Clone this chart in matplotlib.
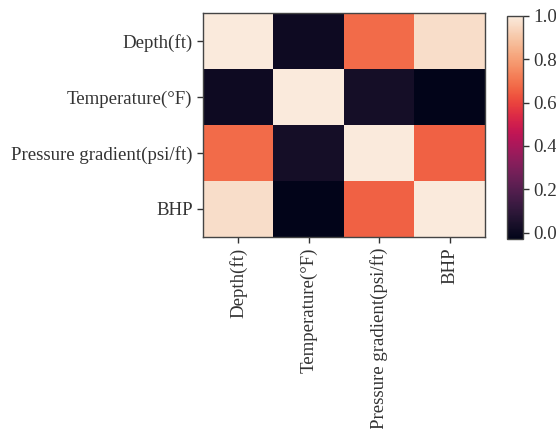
import numpy as np
import matplotlib
matplotlib.use("Agg")
import matplotlib.pyplot as plt
import seaborn as sns

labels = ["Depth(ft)", "Temperature(°F)", "Pressure gradient(psi/ft)", "BHP"]
row_depth = [1.00, 0.01, 0.68, 0.96]
row_temp = [0.01, 1.00, 0.03, -0.03]
row_press = [0.68, 0.03, 1.00, 0.66]
row_bhp = [0.96, -0.03, 0.66, 1.00]
cbar_ticks = [0.0, 0.2, 0.4, 0.6, 0.8, 1.0]

corr = np.array([row_depth, row_temp, row_press, row_bhp])

plt.rcParams['font.family'] = ['Liberation Serif', 'DejaVu Serif']
plt.rcParams['font.size'] = 13.6
tc = '#333333'

fig = plt.figure(figsize=(5.56, 4.29), dpi=100)
W, H = 556, 429
ax = fig.add_axes([203 / W, 1 - 237 / H, (485 - 203) / W, (237 - 13) / H])
cax = fig.add_axes([507 / W, 1 - 239 / H, (523 - 507) / W, (239 - 16) / H])

cmap = sns.color_palette("rocket", as_cmap=True)
im = ax.imshow(corr, cmap=cmap, vmin=-0.03, vmax=1.0, aspect='auto')
ax.set_xticks(range(len(labels)))
ax.set_yticks(range(len(labels)))
ax.set_xticklabels(labels, rotation=90, color=tc)
ax.set_yticklabels(labels, color=tc)
ax.tick_params(colors=tc, length=4, width=1)
for s in ax.spines.values():
    s.set_color('#444444')
    s.set_linewidth(1.0)

cb = fig.colorbar(im, cax=cax, ticks=cbar_ticks)
cb.ax.set_yticklabels([f"{t:.1f}" for t in cbar_ticks], color=tc)
cb.ax.tick_params(colors=tc, length=4, width=1)
cb.outline.set_edgecolor('#444444')
cb.outline.set_linewidth(1.0)

fig.savefig("out.png", dpi=100)
